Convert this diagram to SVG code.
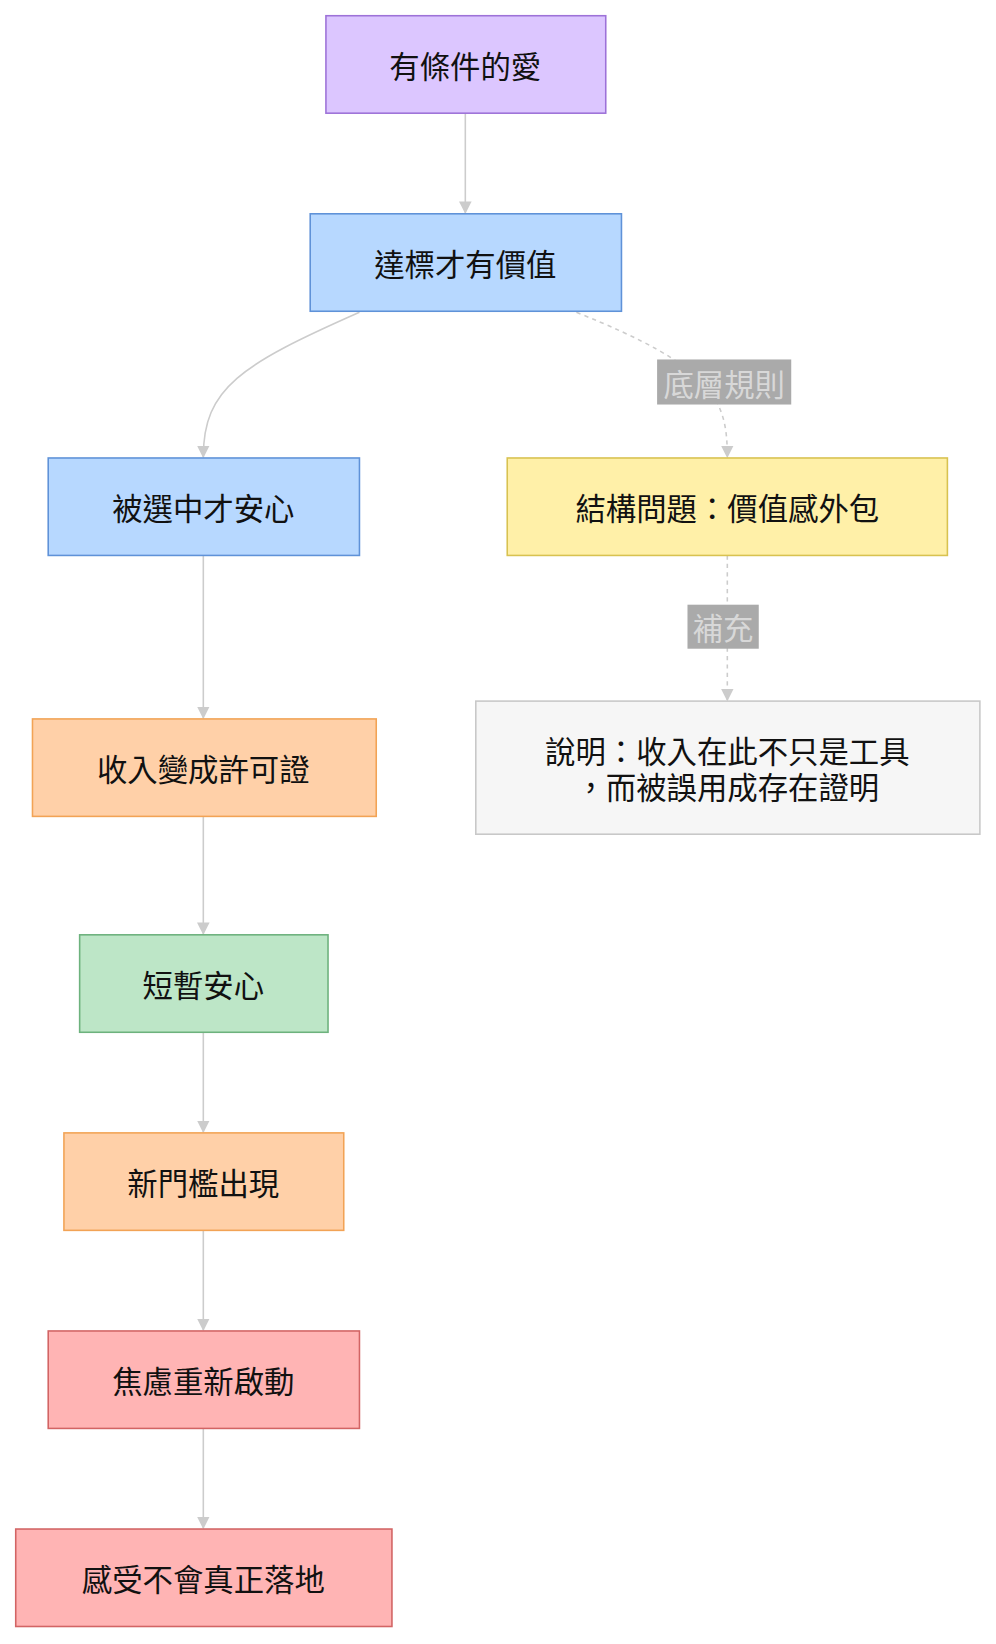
<svg xmlns="http://www.w3.org/2000/svg" width="996" height="1644" viewBox="0 0 996 1644">
<style>
text{font-family:"Noto Sans CJK TC","Noto Sans CJK SC",sans-serif;font-size:29px;fill:#111;text-anchor:middle;dominant-baseline:central}
.e{fill:none;stroke:#cccccc;stroke-width:1.5}
.d{stroke-dasharray:4 4}
.lb{fill:#aaaaaa}
.lt{fill:#d8d8d8}
.n rect{stroke-width:1.5}
</style>
<defs><marker id="a" viewBox="0 0 10 10" refX="9" refY="5" markerWidth="8" markerHeight="8" orient="auto"><path d="M0,0L10,5L0,10z" fill="#cccccc"/></marker></defs>
<rect width="996" height="1644" fill="#fff"/>
<g transform="scale(1.048)">
<g id="edges">
<path class="e" d="M444,108V203" marker-end="url(#a)"/>
<path class="e" d="M343,298C230,348 194,370 194,436" marker-end="url(#a)"/>
<path class="e d" d="M550,298C680,350 694,380 694,436" marker-end="url(#a)"/>
<path class="e" d="M194,530V685" marker-end="url(#a)"/>
<path class="e d" d="M694,530V668" marker-end="url(#a)"/>
<path class="e" d="M194,779V891" marker-end="url(#a)"/>
<path class="e" d="M194,985V1080" marker-end="url(#a)"/>
<path class="e" d="M194,1174V1269" marker-end="url(#a)"/>
<path class="e" d="M194,1363V1458" marker-end="url(#a)"/>
<rect class="lb" x="627" y="343" width="128" height="43"/><text class="lt" x="691" y="365">底層規則</text>
<rect class="lb" x="656" y="577" width="68" height="42"/><text class="lt" x="690" y="598">補充</text>
</g>
<g id="n1" class="n"><rect x="311" y="15" width="267" height="93" fill="#dcc6ff" stroke="#9d72d8"/><text x="444" y="62">有條件的愛</text></g>
<g id="n2" class="n"><rect x="296" y="204" width="297" height="93" fill="#b7d8ff" stroke="#5f92d8"/><text x="444" y="251">達標才有價值</text></g>
<g id="n3" class="n"><rect x="46" y="437" width="297" height="93" fill="#b7d8ff" stroke="#5f92d8"/><text x="194" y="484">被選中才安心</text></g>
<g id="n4" class="n"><rect x="484" y="437" width="420" height="93" fill="#fff0a8" stroke="#d8c250"/><text x="694" y="484">結構問題：價值感外包</text></g>
<g id="n5" class="n"><rect x="454" y="669" width="481" height="127" fill="#f6f6f6" stroke="#c8c8c8"/><text x="694" y="716">說明：收入在此不只是工具</text><text x="694" y="750">，而被誤用成存在證明</text></g>
<g id="n6" class="n"><rect x="31" y="686" width="328" height="93" fill="#ffd0a8" stroke="#f2a355"/><text x="194" y="733">收入變成許可證</text></g>
<g id="n7" class="n"><rect x="76" y="892" width="237" height="93" fill="#bde6c7" stroke="#6db27d"/><text x="194" y="939">短暫安心</text></g>
<g id="n8" class="n"><rect x="61" y="1081" width="267" height="93" fill="#ffd0a8" stroke="#f2a355"/><text x="194" y="1128">新門檻出現</text></g>
<g id="n9" class="n"><rect x="46" y="1270" width="297" height="93" fill="#ffb4b4" stroke="#d26464"/><text x="194" y="1317">焦慮重新啟動</text></g>
<g id="n10" class="n"><rect x="15" y="1459" width="359" height="93" fill="#ffb4b4" stroke="#d26464"/><text x="194" y="1506">感受不會真正落地</text></g>
</g>
</svg>
